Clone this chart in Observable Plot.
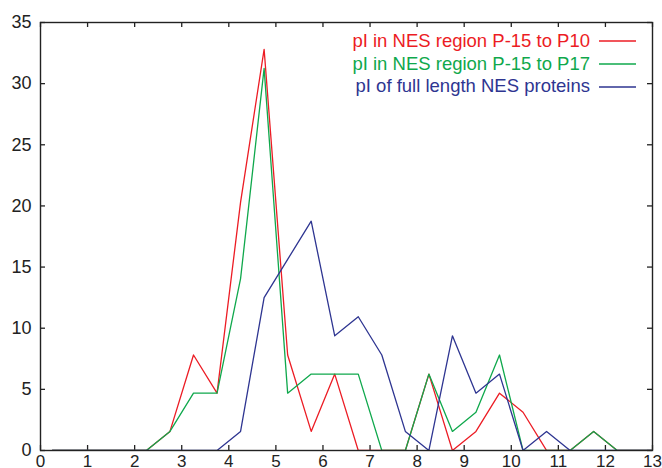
<!DOCTYPE html>
<html>
<head>
<meta charset="utf-8">
<script src="https://cdn.jsdelivr.net/npm/d3@7"></script>
<script src="https://cdn.jsdelivr.net/npm/@observablehq/plot@0.6"></script>
<style>
  html, body { margin: 0; padding: 0; background: #fff; }
  #wrap { position: relative; width: 662px; height: 468px; overflow: hidden; font-family: "Liberation Sans", Arial, Helvetica, sans-serif; }
  #legend { position: absolute; right: 26px; top: 30px; font-size: 18.5px; line-height: 22.7px; }
  #legend .row { display: flex; align-items: center; justify-content: flex-end; }
  #legend svg { margin-left: 9px; }
</style>
</head>
<body>
<div id="wrap"><div id="legend"></div></div>
<script>
// pI bin centres
const binCenters = [0.25, 0.75, 1.25, 1.75, 2.25, 2.75, 3.25, 3.75, 4.25, 4.75, 5.25, 5.75, 6.25, 6.75, 7.25, 7.75, 8.25, 8.75, 9.25, 9.75, 10.25, 10.75, 11.25, 11.75, 12.25, 12.75, 13.25];
// percentage of sequences per bin
const nesP15toP10 = [0, 0, 0, 0, 0, 1.56, 7.81, 4.69, 20.31, 32.81, 7.81, 1.56, 6.25, 0, 0, 0, 6.25, 0, 1.56, 4.69, 3.13, 0, 0, 1.56, 0, 0, 0];
const nesP15toP17 = [0, 0, 0, 0, 0, 1.56, 4.69, 4.69, 14.06, 31.25, 4.69, 6.25, 6.25, 6.25, 0, 0, 6.25, 1.56, 3.13, 7.81, 0, 0, 0, 1.56, 0, 0, 0];
const fullLength = [0, 0, 0, 0, 0, 0, 0, 0, 1.56, 12.5, 15.63, 18.75, 9.38, 10.94, 7.81, 1.56, 0, 9.38, 4.69, 6.25, 0, 1.56, 0, 0, 0, 0, 0];

const seriesNames = ["pI in NES region P-15 to P10", "pI in NES region P-15 to P17", "pI of full length NES proteins"];
const seriesColors = ["#ec1c24", "#0fa84c", "#2e3591"];
const seriesValues = [nesP15toP10, nesP15toP17, fullLength];

const xTicks = d3.range(0, 14);
const yTicks = [0, 5, 10, 15, 20, 25, 30, 35];

const rows = [];
seriesNames.forEach((name, i) => {
  binCenters.forEach((x, j) => rows.push({series: name, x, y: seriesValues[i][j]}));
});

const W = 662, H = 468, mL = 40, mR = 10, mT = 22, mB = 18, tick = 5;
const fw = W - mL - mR, fh = H - mT - mB;
const tickStyle = {stroke: "#222", strokeWidth: 1.3};
const chart = Plot.plot({
  width: W,
  height: H,
  marginLeft: mL,
  marginRight: mR,
  marginTop: mT,
  marginBottom: mB,
  style: {fontFamily: "'Liberation Sans', Arial, Helvetica, sans-serif", background: "#fff", overflow: "visible"},
  x: {domain: [0, 13]},
  y: {domain: [0, 35]},
  marks: [
    // labels
    Plot.axisX(xTicks, {anchor: "bottom", tickSize: 0, tickPadding: 4, fontSize: 17, fill: "#222", label: null}),
    Plot.axisY(yTicks, {anchor: "left", tickSize: 0, tickPadding: 9, fontSize: 18, fill: "#222", label: null}),
    // inward ticks on all four sides
    Plot.ruleX(xTicks, {x: d => d, insetTop: fh - tick, ...tickStyle}),
    Plot.ruleX(xTicks, {x: d => d, insetBottom: fh - tick, ...tickStyle}),
    Plot.ruleY(yTicks, {y: d => d, insetRight: fw - tick, ...tickStyle}),
    Plot.ruleY(yTicks, {y: d => d, insetLeft: fw - tick, ...tickStyle}),
    ...seriesNames.map((name, i) =>
      Plot.line(rows.filter(d => d.series === name), {x: "x", y: "y", stroke: seriesColors[i], strokeWidth: 1.3, clip: true})
    ),
    Plot.frame({stroke: "#222", strokeWidth: 1.4})
  ]
});
document.getElementById("wrap").prepend(chart);

const legend = document.getElementById("legend");
seriesNames.forEach((name, i) => {
  const row = document.createElement("div");
  row.className = "row";
  row.style.color = seriesColors[i];
  row.innerHTML = `<span>${name}</span><svg width="37" height="4"><line x1="0" x2="37" y1="2" y2="2" stroke="${seriesColors[i]}" stroke-width="1.3"/></svg>`;
  legend.appendChild(row);
});
</script>
</body>
</html>
